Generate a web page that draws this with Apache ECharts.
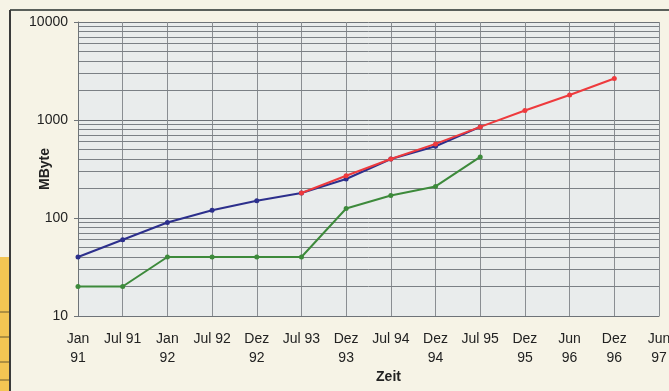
<!DOCTYPE html>
<html>
<head>
<meta charset="utf-8">
<script src="https://cdn.jsdelivr.net/npm/echarts@6/dist/echarts.min.js"></script>
<style>
  html, body { margin: 0; padding: 0; background: #f6f3e6; }
  #chart { width: 669px; height: 391px; }
</style>
</head>
<body>
<div id="chart"></div>
<script>
// Zeitachse
const months = ['Jan\n91', 'Jul 91', 'Jan\n92', 'Jul 92', 'Dez\n92', 'Jul 93', 'Dez\n93',
  'Jul 94', 'Dez\n94', 'Jul 95', 'Dez\n95', 'Jun\n96', 'Dez\n96', 'Jun\n97']
// Werte in MByte
const blueValues = [40, 60, 90, 120, 150, 180, 250, 400, 540, 850, '-', '-', '-', '-']
const redValues = ['-', '-', '-', '-', '-', 180, 270, 400, 570, 850, 1250, 1800, 2650, '-']
const greenValues = [20, 20, 40, 40, 40, 40, 125, 170, 210, 420, '-', '-', '-', '-']
// Hilfslinien der logarithmischen Achse
const minorLines = [20, 30, 40, 50, 60, 70, 80, 90, 200, 300, 400, 500, 600, 700, 800, 900,
  2000, 3000, 4000, 5000, 6000, 7000, 8000, 9000]

const chart = echarts.init(document.getElementById('chart'))
const font = 'Liberation Sans, Arial, sans-serif'

const lineSeries = (name, data, color, z) => ({
  name: name,
  type: 'line',
  data: data,
  z: z,
  symbol: 'circle',
  symbolSize: 5,
  lineStyle: { color: color, width: 2 },
  itemStyle: { color: color },
  animation: false
})

const option = {
  backgroundColor: '#f6f3e6',
  textStyle: { fontFamily: font },
  grid: {
    left: 78, right: 10, top: 22, bottom: 75,
    outerBoundsMode: 'none',
    containLabel: false,
    show: true,
    backgroundColor: '#e9ecec',
    borderWidth: 0
  },
  graphic: [
    // Rahmen
    { type: 'line', shape: { x1: 10, y1: 10, x2: 669, y2: 10 }, style: { stroke: '#5a5f5a', lineWidth: 2 } },
    { type: 'line', shape: { x1: 10, y1: 10, x2: 10, y2: 391 }, style: { stroke: '#3a3a3a', lineWidth: 2 } },
    // gelber Streifen links
    { type: 'rect', shape: { x: 0, y: 257, width: 9, height: 134 }, style: { fill: '#f3c553' } },
    { type: 'line', shape: { x1: 0, y1: 312, x2: 9, y2: 312 }, style: { stroke: '#6a5a30', lineWidth: 1 } },
    { type: 'line', shape: { x1: 0, y1: 337, x2: 9, y2: 337 }, style: { stroke: '#6a5a30', lineWidth: 1 } },
    { type: 'line', shape: { x1: 0, y1: 362, x2: 9, y2: 362 }, style: { stroke: '#6a5a30', lineWidth: 1 } },
    { type: 'line', shape: { x1: 0, y1: 380, x2: 9, y2: 380 }, style: { stroke: '#6a5a30', lineWidth: 1 } }
  ],
  xAxis: {
    type: 'category',
    data: months,
    boundaryGap: false,
    name: 'Zeit',
    nameLocation: 'middle',
    nameGap: 54,
    nameMoveOverlap: false,
    nameTextStyle: { fontWeight: 'bold', fontSize: 14, color: '#222', padding: [0, 0, 0, 40] },
    axisLine: { lineStyle: { color: '#6e7378', width: 1 } },
    axisTick: { show: false },
    axisLabel: {
      interval: 0, margin: 14, fontSize: 14, lineHeight: 19, color: '#222',
      verticalAlign: 'top', hideOverlap: false
    },
    splitLine: { show: true, lineStyle: { color: '#8a8e92', width: 1 } }
  },
  yAxis: {
    type: 'log',
    logBase: 10,
    min: 10,
    max: 10000,
    name: 'MByte',
    nameLocation: 'middle',
    nameGap: 26,
    nameMoveOverlap: false,
    nameTextStyle: { fontWeight: 'bold', fontSize: 14, color: '#222' },
    axisLine: { show: true, lineStyle: { color: '#6e7378', width: 1 } },
    axisTick: { show: true, length: 4, lineStyle: { color: '#6e7378' } },
    axisLabel: { fontSize: 14, color: '#222', margin: 10, formatter: v => String(Math.round(v)) },
    splitLine: { show: true, lineStyle: { color: '#6e7378', width: 1 } }
  },
  series: [
    {
      type: 'line',
      data: [],
      silent: true,
      z: 0,
      markLine: {
        silent: true,
        symbol: 'none',
        label: { show: false },
        animation: false,
        z: 0,
        lineStyle: { color: '#7b8085', width: 1, type: 'solid' },
        data: minorLines.map(v => ({ yAxis: v }))
      }
    },
    lineSeries('blau', blueValues, '#2c2f8c', 3),
    lineSeries('gruen', greenValues, '#3d8a3b', 3),
    lineSeries('rot', redValues, '#ee3a3d', 4)
  ]
}
chart.setOption(option)
</script>
</body>
</html>
